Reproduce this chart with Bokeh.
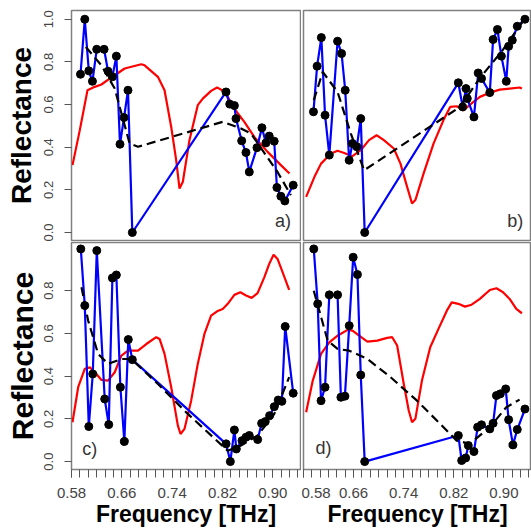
from bokeh.plotting import figure
from bokeh.layouts import column, row
from bokeh.models import FixedTicker, Label, Range1d
from bokeh.embed import file_html
from bokeh.resources import INLINE

# ---------------- data ----------------
# panel a
meas_f_a = [0.5943, 0.6011, 0.6075, 0.6133, 0.6201, 0.6318, 0.6381, 0.6450, 0.6513, 0.6571,
            0.6635, 0.6698, 0.6767, 0.8256, 0.8315, 0.8389, 0.8415, 0.8505, 0.8573, 0.8626,
            0.8748, 0.8827, 0.8890, 0.8943, 0.9022, 0.9065, 0.9128, 0.9191, 0.9324]
meas_r_a = [0.742, 1.0, 0.758, 0.709, 0.859, 0.859, 0.756, 0.730, 0.827, 0.414,
            0.539, 0.667, 0.0, 0.659, 0.602, 0.595, 0.534, 0.430, 0.375, 0.284,
            0.398, 0.491, 0.420, 0.452, 0.428, 0.211, 0.170, 0.148, 0.222]
sim_f_a = [0.5816, 0.5932, 0.6054, 0.6170, 0.6275, 0.6434, 0.6645, 0.6909, 0.6962, 0.7173,
           0.7279, 0.7385, 0.7464, 0.7517, 0.7570, 0.7675, 0.7807, 0.7887, 0.8019, 0.8114,
           0.8177, 0.8283, 0.8388, 0.8547, 0.8705, 0.8917, 0.9128, 0.9265]
sim_r_a = [0.316, 0.480, 0.667, 0.683, 0.694, 0.727, 0.769, 0.789, 0.784, 0.730,
           0.667, 0.495, 0.339, 0.206, 0.238, 0.433, 0.597, 0.628, 0.664, 0.680,
           0.670, 0.636, 0.581, 0.519, 0.448, 0.378, 0.316, 0.277]
fit_f_a = [0.6027, 0.6275, 0.6487, 0.6724, 0.6857, 0.8204, 0.8494, 0.8653, 0.9075, 0.9287]
fit_r_a = [0.870, 0.784, 0.675, 0.417, 0.402, 0.519, 0.488, 0.464, 0.284, 0.175]

# panel b
meas_f_b = [0.5959, 0.6017, 0.6085, 0.6144, 0.6212, 0.6344, 0.6408, 0.6466, 0.6529, 0.6582,
            0.6651, 0.6714, 0.6777, 0.8272, 0.8341, 0.8394, 0.8415, 0.8521, 0.8589, 0.8642,
            0.8774, 0.8827, 0.8896, 0.8959, 0.9038, 0.9075, 0.9133, 0.9213, 0.9335]
meas_r_b = [0.566, 0.780, 0.914, 0.550, 0.363, 0.897, 0.839, 0.667, 0.339, 0.417,
            0.402, 0.534, 0.0, 0.702, 0.589, 0.675, 0.628, 0.542, 0.748, 0.722,
            0.656, 0.905, 0.952, 0.827, 0.709, 0.873, 0.902, 0.967, 1.0]
sim_f_b = [0.5842, 0.5975, 0.6080, 0.6239, 0.6344, 0.6450, 0.6582, 0.6714, 0.6846, 0.6967,
           0.7083, 0.7242, 0.7348, 0.7454, 0.7533, 0.7586, 0.7718, 0.7876, 0.8035, 0.8141,
           0.8246, 0.8352, 0.8484, 0.8616, 0.8774, 0.8933, 0.9091, 0.9250, 0.9287]
sim_r_b = [0.167, 0.261, 0.323, 0.370, 0.383, 0.373, 0.358, 0.386, 0.433, 0.456,
           0.433, 0.394, 0.323, 0.214, 0.136, 0.152, 0.277, 0.417, 0.527, 0.589,
           0.592, 0.573, 0.605, 0.636, 0.655, 0.670, 0.675, 0.680, 0.675]
fit_f_b = [0.5964, 0.6107, 0.6344, 0.6556, 0.6767, 0.8299, 0.8610, 0.8980, 0.9297]
fit_r_b = [0.620, 0.753, 0.659, 0.464, 0.292, 0.589, 0.722, 0.855, 0.988]

# panel c
meas_f_c = [0.5948, 0.6011, 0.6075, 0.6138, 0.6202, 0.6328, 0.6392, 0.6450, 0.6513, 0.6577,
            0.6640, 0.6703, 0.6767, 0.8257, 0.8325, 0.8389, 0.8420, 0.8510, 0.8574, 0.8626,
            0.8759, 0.8822, 0.8880, 0.8949, 0.9023, 0.9086, 0.9144, 0.9197, 0.9324]
meas_r_c = [0.995, 0.730, 0.164, 0.410, 0.987, 0.293, 0.173, 0.859, 0.873, 0.348,
            0.094, 0.571, 0.477, 0.083, 0.0, 0.148, 0.059, 0.098, 0.114, 0.122,
            0.103, 0.179, 0.187, 0.215, 0.257, 0.288, 0.282, 0.632, 0.320]
sim_f_c = [0.5816, 0.5906, 0.6011, 0.6091, 0.6196, 0.6276, 0.6381, 0.6487, 0.6593, 0.6698,
           0.6857, 0.6989, 0.7147, 0.7200, 0.7279, 0.7385, 0.7491, 0.7533, 0.7596, 0.7702,
           0.7807, 0.7913, 0.8019, 0.8114, 0.8204, 0.8283, 0.8389, 0.8484, 0.8574, 0.8664,
           0.8758, 0.8864, 0.8943, 0.9012, 0.9075, 0.9155, 0.9260]
sim_r_c = [0.184, 0.348, 0.434, 0.441, 0.410, 0.382, 0.379, 0.418, 0.496, 0.519,
           0.519, 0.550, 0.582, 0.574, 0.504, 0.348, 0.168, 0.129, 0.153, 0.285,
           0.457, 0.597, 0.683, 0.703, 0.714, 0.738, 0.780, 0.792, 0.777, 0.766,
           0.788, 0.862, 0.925, 0.968, 0.948, 0.886, 0.803]
fit_f_c = [0.5959, 0.6064, 0.6223, 0.6381, 0.6593, 0.6751, 0.7174, 0.7649, 0.8283, 0.8494,
           0.8758, 0.9023, 0.9260]
fit_r_c = [0.816, 0.660, 0.504, 0.457, 0.480, 0.480, 0.363, 0.223, 0.051, 0.075,
           0.122, 0.223, 0.395]

# panel d
meas_f_d = [0.5964, 0.6027, 0.6080, 0.6144, 0.6212, 0.6344, 0.6397, 0.6461, 0.6530, 0.6593,
            0.6661, 0.6714, 0.6777, 0.8272, 0.8325, 0.8389, 0.8431, 0.8521, 0.8580, 0.8642,
            0.8774, 0.8827, 0.8880, 0.8943, 0.9028, 0.9075, 0.9144, 0.9213, 0.9335]
meas_r_d = [0.995, 0.738, 0.285, 0.348, 0.780, 0.780, 0.301, 0.306, 0.636, 0.956,
            0.875, 0.405, 0.0, 0.122, 0.005, 0.017, 0.075, 0.047, 0.161, 0.172,
            0.153, 0.179, 0.309, 0.317, 0.340, 0.196, 0.078, 0.150, 0.246]
sim_f_d = [0.5842, 0.5948, 0.6080, 0.6212, 0.6344, 0.6503, 0.6582, 0.6688, 0.6820, 0.6978,
           0.7136, 0.7216, 0.7295, 0.7401, 0.7480, 0.7533, 0.7586, 0.7691, 0.7823, 0.7955,
           0.8088, 0.8167, 0.8272, 0.8378, 0.8484, 0.8616, 0.8775, 0.8880, 0.8986, 0.9091,
           0.9197, 0.9287]
sim_r_d = [0.231, 0.379, 0.504, 0.558, 0.589, 0.616, 0.613, 0.589, 0.561, 0.566,
           0.579, 0.582, 0.543, 0.363, 0.239, 0.184, 0.200, 0.379, 0.535, 0.621,
           0.706, 0.745, 0.738, 0.725, 0.734, 0.761, 0.803, 0.811, 0.792, 0.761,
           0.714, 0.694]
fit_f_d = [0.5964, 0.6186, 0.6344, 0.6530, 0.6820, 0.7189, 0.7612, 0.8035, 0.8246, 0.8457,
           0.8774, 0.9038, 0.9250]
fit_r_d = [0.799, 0.566, 0.527, 0.519, 0.480, 0.395, 0.285, 0.161, 0.098, 0.083,
           0.161, 0.254, 0.290]

x_ticks = [0.58, 0.66, 0.74, 0.82, 0.90]
x_tick_labels = ["0.58", "0.66", "0.74", "0.82", "0.90"]
y_ticks_top = [0.0, 0.2, 0.4, 0.6, 0.8, 1.0]
y_ticks_bottom = [0.0, 0.2, 0.4, 0.6, 0.8]
panel_tags = ["a)", "b)", "c)", "d)"]

FONT = "Liberation Sans"
FRAME_COL = "#808080"


def make_panel(width, height, borders, yr, has_x, has_y, y_ticks, ylabel_size, ylabel_standoff,
               mf, mr, sf, sr, ff, fr, tag, tag_x, tag_y, tag_align):
    p = figure(width=width, height=height, output_backend="svg", toolbar_location=None,
               x_range=Range1d(0.58, 0.944), y_range=Range1d(*yr),
               x_axis_location="below" if has_x else None,
               y_axis_location="left" if has_y else None)
    p.min_border_left, p.min_border_right, p.min_border_top, p.min_border_bottom = borders
    p.grid.visible = False
    p.outline_line_color = FRAME_COL
    p.outline_line_width = 1.5
    p.background_fill_color = "white"
    p.border_fill_color = "white"

    p.line(sf, sr, line_color="#ff0000", line_width=2.2)
    p.line(mf, mr, line_color="#0000ff", line_width=2.2)
    p.line(ff, fr, line_color="black", line_width=2.2, line_dash="9 5")
    p.scatter(mf, mr, size=8, fill_color="black", line_color="black")

    if has_y:
        ax = p.yaxis[0]
        ax.ticker = FixedTicker(ticks=y_ticks)
        ax.major_label_overrides = {t: f"{t:.1f}" for t in y_ticks}
        ax.major_label_orientation = "vertical"
        ax.major_label_text_font = FONT
        ax.major_label_text_font_size = "13px"
        ax.major_label_text_color = "#444444"
        ax.major_tick_out = 7
        ax.major_tick_in = 0
        ax.minor_tick_out = 0
        ax.major_tick_line_color = "#555555"
        ax.axis_line_color = FRAME_COL
        ax.major_label_standoff = 11
        ax.axis_label = "Reflectance"
        ax.axis_label_text_font = FONT
        ax.axis_label_text_font_style = "bold"
        ax.axis_label_text_font_size = ylabel_size
        ax.axis_label_text_color = "black"
        ax.axis_label_standoff = ylabel_standoff
    if has_x:
        ax = p.xaxis[0]
        minor = [0.58 + k * 0.08 / 6 for k in range(0, 28)]
        ax.ticker = FixedTicker(ticks=x_ticks, minor_ticks=minor)
        ax.major_label_overrides = dict(zip(x_ticks, x_tick_labels))
        ax.major_label_text_font = FONT
        ax.major_label_text_font_size = "15px"
        ax.major_label_text_color = "#444444"
        ax.major_tick_out = 8
        ax.major_tick_in = 0
        ax.minor_tick_out = 8
        ax.minor_tick_in = 0
        ax.major_tick_line_color = "#555555"
        ax.minor_tick_line_color = "#555555"
        ax.axis_line_color = FRAME_COL
        ax.major_label_standoff = 10
        ax.axis_label = "Frequency [THz]"
        ax.axis_label_text_font = FONT
        ax.axis_label_text_font_style = "bold"
        ax.axis_label_text_font_size = "23px"
        ax.axis_label_text_color = "black"
        ax.axis_label_standoff = 0

    p.add_layout(Label(x=tag_x, y=tag_y, text=tag, text_align=tag_align,
                       text_baseline="bottom", text_font=FONT,
                       text_font_size="18px", text_color="#333333"))
    return p


pa = make_panel(301, 241, (71, 1, 10, 1), (-0.0375, 1.041), False, True, y_ticks_top, "28px", 5,
                meas_f_a, meas_r_a, sim_f_a, sim_r_a, fit_f_a, fit_r_a,
                panel_tags[0], 0.929, 0.008, "right")
pb = make_panel(230, 241, (2, 0, 10, 1), (-0.0375, 1.041), False, False, y_ticks_top, "28px", 5,
                meas_f_b, meas_r_b, sim_f_b, sim_r_b, fit_f_b, fit_r_b,
                panel_tags[1], 0.931, 0.008, "right")
pc = make_panel(301, 290, (71, 1, 1, 62), (-0.037, 1.025), True, True, y_ticks_bottom, "30px", 3,
                meas_f_c, meas_r_c, sim_f_c, sim_r_c, fit_f_c, fit_r_c,
                panel_tags[2], 0.597, 0.012, "left")
pd_ = make_panel(230, 290, (2, 0, 1, 62), (-0.037, 1.025), True, False, y_ticks_bottom, "30px", 3,
                 meas_f_d, meas_r_d, sim_f_d, sim_r_d, fit_f_d, fit_r_d,
                 panel_tags[3], 0.599, 0.016, "left")

layout = column(row(pa, pb), row(pc, pd_))
open("out.html", "w").write(file_html(layout, INLINE))
